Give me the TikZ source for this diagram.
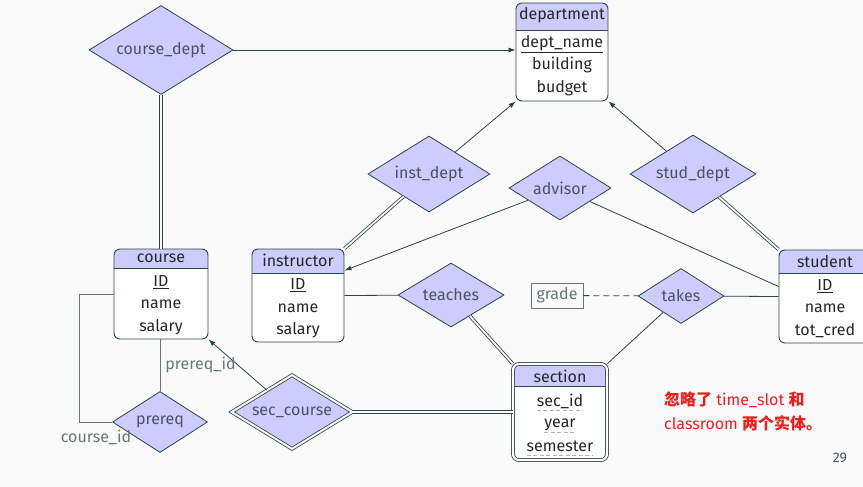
\documentclass[tikz,border=0pt]{standalone}
\usepackage{fontspec}
\setmainfont{Fira Sans}
\newfontfamily\cjk{Noto Sans CJK SC}
\usepackage{xcolor}
\usepackage{tikz}
\usetikzlibrary{arrows.meta, positioning, calc, shapes.geometric}

\definecolor{bgc}{HTML}{FAFAFA}
\definecolor{hdr}{HTML}{CCCCFF}
\definecolor{edge}{HTML}{2E4444}
\definecolor{dtext}{HTML}{485464}
\definecolor{soft}{HTML}{647878}
\definecolor{note}{HTML}{F21C1C}

\begin{document}
\begin{tikzpicture}[
    x=1pt, y=-1pt,
    >={Latex[length=7pt, width=5pt]},
    font=\fontsize{16}{22.5}\selectfont,
    entity/.style={draw=edge, fill=white, rounded corners=6, line width=0.9, inner sep=0,
        path picture={
            \fill[hdr, sharp corners] (path picture bounding box.north west)
                rectangle ([yshift=-#1]path picture bounding box.north east);
            \draw[edge, line width=0.9, sharp corners] ([yshift=-#1]path picture bounding box.north west)
                -- ([yshift=-#1]path picture bounding box.north east);
        }},
    weakentity/.style={entity=#1, double=white, double distance=2.2, line width=0.8},
    title/.style={inner sep=0, text=black!85},
    attr/.style={inner sep=0, align=center, text=black!85},
    rel/.style={diamond, draw=edge, fill=hdr, aspect=2, inner sep=0, line width=0.8, text=dtext},
    weakrel/.style={rel, double=bgc, double distance=2},
    link/.style={draw=edge, line width=0.8},
    total/.style={link, double=bgc, double distance=1.8},
    soft line/.style={draw=soft, line width=0.9},
    lbl/.style={inner sep=1, text=soft},
    attrbox/.style={draw=soft, line width=0.9, inner sep=0, minimum width=52, minimum height=25, text=soft},
    partial/.style={draw=gray!60, line width=0.7, dash pattern=on 4pt off 2.5pt},
    remark/.style={inner sep=0, anchor=west, text=note}
]

\fill[bgc] (0,0) rectangle (863,487);
\useasboundingbox (0,0) rectangle (863,487);

% entities
\node[entity=27, minimum width=92, minimum height=98] (dept) at (562,52) {};
\node[title] (dept-t) at (562,15) {department};
\node[attr] (dept-a) at (562,65.5) {\underline{dept\_name}\\building\\budget};

\node[entity=19, minimum width=94, minimum height=90] (course) at (161,294) {};
\node[title] (course-t) at (161,258) {course};
\node[attr] (course-a) at (161,305) {\underline{ID}\\name\\salary};

\node[entity=24, minimum width=92, minimum height=93] (instructor) at (298,295.5) {};
\node[title] (instructor-t) at (298,260) {instructor};
\node[attr] (instructor-a) at (298,308.5) {\underline{ID}\\name\\salary};

\node[entity=23, minimum width=92, minimum height=93] (student) at (825,296.5) {};
\node[title] (student-t) at (825,262) {student};
\node[attr] (student-a) at (825,308.5) {\underline{ID}\\name\\tot\_cred};

\node[weakentity=22, minimum width=94, minimum height=96] (section) at (560,412) {};
\node[title] (section-t) at (560,376) {section};
\node[attr] (secid) at (560,401) {sec\_id};
\node[attr] (year) at (560,425) {year};
\node[attr] (semester) at (560,446) {semester};
\draw[partial] ([yshift=-4]secid.base west) -- ([yshift=-4]secid.base east);
\draw[partial] ([yshift=-5]year.base west) -- ([yshift=-5]year.base east);
\draw[partial] ([yshift=-4]semester.base west) -- ([yshift=-4]semester.base east);

% relationships
\node[rel, minimum width=144, minimum height=89] (coursedept) at (161,50) {course\_dept};
\node[rel, minimum width=122, minimum height=76] (instdept) at (429,174) {inst\_dept};
\node[rel, minimum width=102, minimum height=64] (advisor) at (560,188) {advisor};
\node[rel, minimum width=126, minimum height=78] (studdept) at (693,174) {stud\_dept};
\node[rel, minimum width=106, minimum height=64] (teaches) at (451,295) {teaches};
\node[rel, minimum width=86, minimum height=55] (takes) at (681,296) {takes};
\node[rel, minimum width=95, minimum height=61] (prereq) at (160,422) {prereq};
\node[weakrel, minimum width=121, minimum height=74] (seccourse) at (292,412) {sec\_course};

\node[attrbox] (grade) at (557,295.5) {grade};

% connectors
\draw[->, link] (coursedept.east) -- (coursedept.east -| dept.west);
\draw[total] (coursedept) -- (course);
\draw[->, link] (instdept) -- (dept.south west);
\draw[total] (instdept) -- (instructor.north east);
\draw[->, link] (studdept) -- (dept.south east);
\draw[total] (studdept) -- (student.north west);
\draw[->, link] (advisor) -- ([yshift=25]instructor.east);
\draw[link] (advisor) -- ([yshift=10]student.west);
\draw[link] (instructor.east) -- (teaches);
\draw[total] (teaches) -- (section.north west);
\draw[link] (takes) -- (section.north east);
\draw[link] (takes) -- (student.west);
\draw[link, dash pattern=on 6pt off 4pt] (grade) -- (takes);
\draw[->, link] (seccourse) -- (course.south east);
\draw[total] (seccourse) -- (section);
\draw[soft line] (prereq.north) -- node[lbl, right, xshift=4] {prereq\_id} (prereq.north |- course.south);
\draw[soft line] (prereq.west) -- ++(-33,0) |- (course.west);
\node[lbl] (courseid) at (96,437) {course\_id};

% note and page number
\node[remark] (note1) at (664,400) {{\cjk\bfseries 忽略了} time\_slot {\cjk\bfseries 和}};
\node[remark] (note2) at (664,423) {classroom {\cjk\bfseries 两个实体。}};
\node[inner sep=0, text=dtext, font=\fontsize{14}{16}\selectfont] (page) at (840,458) {29};

\end{tikzpicture}
\end{document}
